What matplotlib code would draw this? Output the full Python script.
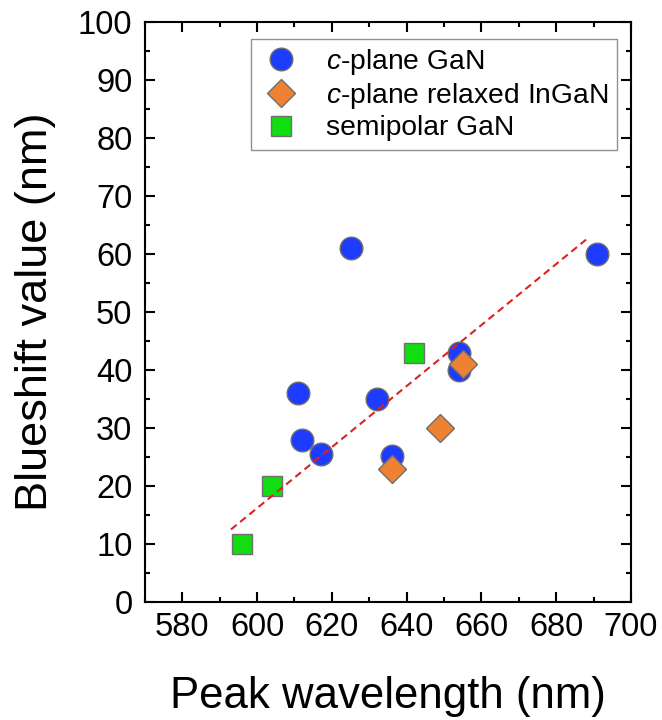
import matplotlib
matplotlib.use("Agg")
import matplotlib.pyplot as plt
from matplotlib.ticker import MultipleLocator

plt.rcParams['font.family'] = ['Liberation Sans', 'DejaVu Sans']
plt.rcParams['mathtext.fontset'] = 'custom'
plt.rcParams['mathtext.rm'] = 'Liberation Sans'
plt.rcParams['mathtext.it'] = 'Liberation Sans:italic'

# c-plane GaN
cgan_wl = [625, 691, 654, 654, 611, 632, 612, 617, 636]
cgan_bs = [61, 60, 43, 40, 36, 35, 28, 25.5, 25.2]
# c-plane relaxed InGaN
ingan_wl = [655, 649, 636]
ingan_bs = [41, 30, 23]
# semipolar GaN
semi_wl = [642, 604, 596]
semi_bs = [43, 20, 10]
# linear fit line end points
fit_wl = [593, 688]
fit_bs = [12.5, 62.5]

fig = plt.figure(figsize=(6.62, 7.2), dpi=100)
ax = fig.add_axes([0.219, 0.164, 0.734, 0.805])

edge = "#6f6f6f"
ax.plot(cgan_wl, cgan_bs, 'o', ms=16.3, color="#1e3cff", mec=edge, mew=1.0,
        label=r"$\it{c}$-plane GaN", zorder=3)
ax.plot(ingan_wl, ingan_bs, 'D', ms=13.8, color="#ee8232", mec=edge, mew=1.0,
        label=r"$\it{c}$-plane relaxed InGaN", zorder=4)
ax.plot(semi_wl, semi_bs, 's', ms=13.8, color="#11dd11", mec=edge, mew=1.0,
        label="semipolar GaN", zorder=5)
ax.plot(fit_wl, fit_bs, '--', color="#dd2222", lw=1.5, dashes=(3.5, 2.2), zorder=6)

ax.set_xlim(570, 700)
ax.set_ylim(0, 100)
ax.xaxis.set_major_locator(MultipleLocator(20))
ax.xaxis.set_minor_locator(MultipleLocator(10))
ax.yaxis.set_major_locator(MultipleLocator(10))
ax.yaxis.set_minor_locator(MultipleLocator(5))
ax.set_xticks(range(580, 701, 20))

ax.tick_params(which='both', direction='in', top=True, right=True, width=1.5)
ax.tick_params(which='major', length=7)
ax.tick_params(which='minor', length=3.5)
ax.tick_params(axis='x', which='major', labelsize=23.5, pad=7)
ax.tick_params(axis='y', which='major', labelsize=23.5, pad=9)
for s in ax.spines.values():
    s.set_linewidth(1.5)

ax.set_xlabel("Peak wavelength (nm)", fontsize=31.5, labelpad=24)
ax.set_ylabel("Blueshift value (nm)", fontsize=32.5, labelpad=16)

# legend box in the upper right corner
leg = ax.legend(loc='upper right', bbox_to_anchor=(0.971, 0.972), fontsize=20.3,
                frameon=True, fancybox=False, edgecolor="#777777",
                labelspacing=0.15, handletextpad=0.85, borderpad=0.3,
                handlelength=1.5, borderaxespad=0)
leg.get_frame().set_linewidth(1.0)

fig.savefig("out.png", dpi=100)
